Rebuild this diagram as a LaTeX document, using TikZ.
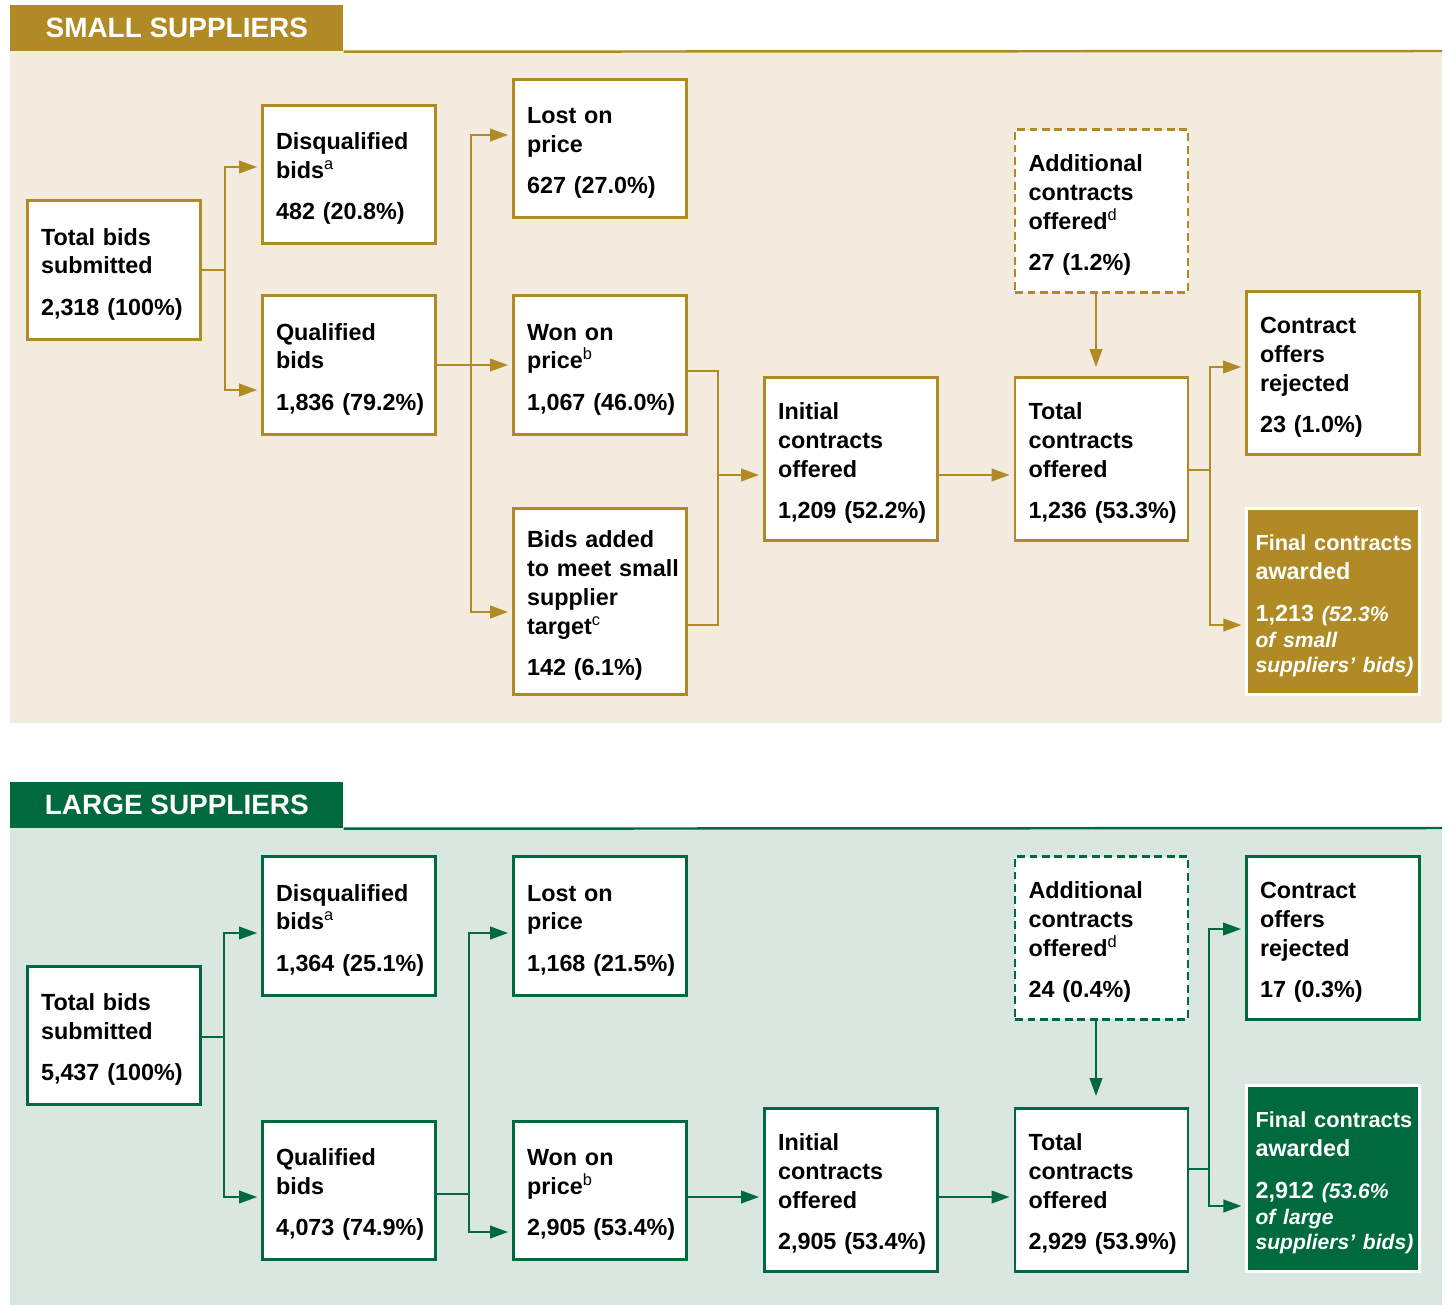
\documentclass[tikz,border=0pt]{standalone}
\usepackage{fontspec}
\setmainfont{Liberation Sans}
\usetikzlibrary{arrows.meta, positioning}

\definecolor{gold}{RGB}{176,138,36}
\definecolor{sandbg}{RGB}{243,236,222}
\definecolor{forest}{RGB}{0,106,62}
\definecolor{mintbg}{RGB}{217,231,224}

\newcommand{\awardnote}[1]{{\fontsize{12}{14}\selectfont\itshape #1}}

\begin{document}
\begin{tikzpicture}[x=0.02cm, y=-0.02cm,
      box/.style={draw=#1, fill=white, line width=1.6pt, minimum width=3.46cm, text width=2.92cm, inner sep=0pt, align=left, font=\fontsize{13.3}{16.5}\selectfont\bfseries, execute at begin node={\hyphenpenalty=10000\rule{0pt}{14.3pt}}},
      dbox/.style={box=#1, dash pattern=on 4.5pt off 2.6pt},
      fbox/.style={box=white, fill=#1, text=white, line width=1.2pt, text width=3.1cm},
      tab/.style={fill=#1, text=white, anchor=north west, inner sep=0pt, minimum width=6.66cm, minimum height=0.92cm, font=\fontsize{15.9}{18}\selectfont\bfseries},
      conn/.style={draw=#1, line width=1.3pt},
      arr/.style={conn=#1, -{Triangle[length=0.36cm, width=0.25cm]}, shorten >=0.08cm},
    ]
    \useasboundingbox (0,0) rectangle (1451,1305);

    % small suppliers
    \fill[sandbg] (10,51) rectangle (1442,723);
    \node[tab=gold] (head_s) at (10,5) {SMALL SUPPLIERS};
    \draw[gold, line width=1.4pt] (head_s.south east) -- (1442,51);

    \node[box=gold, minimum height=2.78cm] (tot_s) at (114,270) {Total~bids\\submitted\\[7pt]2,318~(100\%)};
    \node[box=gold, minimum height=2.76cm] (disq_s) at (349,174.5) {Disqualified\\bids\textsuperscript{\mdseries a}\\[7pt]482~(20.8\%)};
    \node[box=gold, minimum height=2.78cm] (qual_s) at (349,365) {Qualified\\bids\\[7pt]1,836~(79.2\%)};
    \node[box=gold, minimum height=2.76cm] (lost_s) at (600,148.5) {Lost~on\\price\\[7pt]627~(27.0\%)};
    \node[box=gold, minimum height=2.78cm] (won_s) at (600,365) {Won~on\\price\textsuperscript{\mdseries b}\\[7pt]1,067~(46.0\%)};
    \node[box=gold, minimum height=3.72cm] (added_s) at (600,601.5) {Bids~added\\to~meet~small\\supplier\\target\textsuperscript{\mdseries c}\\[7pt]142~(6.1\%)};
    \node[box=gold, minimum height=3.26cm] (init_s) at (851,459) {Initial\\contracts\\offered\\[7pt]1,209~(52.2\%)};
    \node[box=gold, minimum height=3.26cm] (total_s) at (1101.5,459) {Total\\contracts\\offered\\[7pt]1,236~(53.3\%)};
    \node[dbox=gold, minimum height=3.26cm] (addl_s) at (1101.5,211) {Additional\\contracts\\offered\textsuperscript{\mdseries d}\\[7pt]27~(1.2\%)};
    \node[box=gold, minimum height=3.26cm] (rej_s) at (1333,373) {Contract\\offers\\rejected\\[7pt]23~(1.0\%)};
    \node[fbox=gold, minimum height=3.72cm] (final_s) at (1333,601.5) {{\fontsize{12.4}{16.5}\selectfont Final~contracts}\\awarded\\[7pt]1,213~\awardnote{(52.3\%}\\[-1.8pt]\awardnote{of~small}\\[-1.8pt]\awardnote{suppliers’~bids)}};

    \coordinate (fork_tot_s) at (225,270);
    \draw[conn=gold] (tot_s.east) -- (fork_tot_s);
    \draw[arr=gold] (fork_tot_s) |- (disq_s.west |- 0,167);
    \draw[arr=gold] (fork_tot_s) |- (qual_s.west |- 0,390);

    \coordinate (fork_qual_s) at (471,365);
    \draw[arr=gold] (qual_s.east) -- (won_s.west);
    \draw[arr=gold] (fork_qual_s) |- (lost_s.west |- 0,135);
    \draw[arr=gold] (fork_qual_s) |- (added_s.west |- 0,612);

    \coordinate (merge_s) at (718,475);
    \draw[conn=gold] (won_s.east |- 0,371) -| (merge_s) |- (added_s.east |- 0,625);
    \draw[arr=gold] (merge_s) -- (init_s.west |- merge_s);
    \draw[arr=gold] (init_s.east |- 0,475) -- (total_s.west |- 0,475);
    \draw[arr=gold, shorten >=0.18cm] (addl_s.south -| 1096,0) -- (total_s.north -| 1096,0);

    \coordinate (fork_total_s) at (1210,470);
    \draw[conn=gold] (total_s.east |- fork_total_s) -- (fork_total_s);
    \draw[arr=gold] (fork_total_s) |- (rej_s.west |- 0,367);
    \draw[arr=gold] (fork_total_s) |- (final_s.west |- 0,625);

    % large suppliers
    \fill[mintbg] (10,828) rectangle (1442,1305);
    \node[tab=forest] (head_l) at (10,782) {LARGE SUPPLIERS};
    \draw[forest, line width=1.4pt] (head_l.south east) -- (1442,828);

    \node[box=forest, minimum height=2.76cm] (tot_l) at (114,1035.5) {Total~bids\\submitted\\[7pt]5,437~(100\%)};
    \node[box=forest, minimum height=2.78cm] (disq_l) at (349,926) {Disqualified\\bids\textsuperscript{\mdseries a}\\[7pt]1,364~(25.1\%)};
    \node[box=forest, minimum height=2.76cm] (qual_l) at (349,1190.5) {Qualified\\bids\\[7pt]4,073~(74.9\%)};
    \node[box=forest, minimum height=2.78cm] (lost_l) at (600,926) {Lost~on\\price\\[7pt]1,168~(21.5\%)};
    \node[box=forest, minimum height=2.76cm] (won_l) at (600,1190.5) {Won~on\\price\textsuperscript{\mdseries b}\\[7pt]2,905~(53.4\%)};
    \node[box=forest, minimum height=3.26cm] (init_l) at (851,1190) {Initial\\contracts\\offered\\[7pt]2,905~(53.4\%)};
    \node[box=forest, minimum height=3.26cm] (total_l) at (1101.5,1190) {Total\\contracts\\offered\\[7pt]2,929~(53.9\%)};
    \node[dbox=forest, minimum height=3.26cm] (addl_l) at (1101.5,938) {Additional\\contracts\\offered\textsuperscript{\mdseries d}\\[7pt]24~(0.4\%)};
    \node[box=forest, minimum height=3.26cm] (rej_l) at (1333,938) {Contract\\offers\\rejected\\[7pt]17~(0.3\%)};
    \node[fbox=forest, minimum height=3.72cm] (final_l) at (1333,1178.5) {{\fontsize{12.4}{16.5}\selectfont Final~contracts}\\awarded\\[7pt]2,912~\awardnote{(53.6\%}\\[-1.8pt]\awardnote{of~large}\\[-1.8pt]\awardnote{suppliers’~bids)}};

    \coordinate (fork_tot_l) at (224,1037);
    \draw[conn=forest] (tot_l.east |- fork_tot_l) -- (fork_tot_l);
    \draw[arr=forest] (fork_tot_l) |- (disq_l.west |- 0,933);
    \draw[arr=forest] (fork_tot_l) |- (qual_l.west |- 0,1197);

    \coordinate (fork_qual_l) at (469,1194);
    \draw[conn=forest] (qual_l.east |- fork_qual_l) -- (fork_qual_l);
    \draw[arr=forest] (fork_qual_l) |- (lost_l.west |- 0,933);
    \draw[arr=forest] (fork_qual_l) |- (won_l.west |- 0,1232);

    \draw[arr=forest] (won_l.east |- 0,1197) -- (init_l.west |- 0,1197);
    \draw[arr=forest] (init_l.east |- 0,1197) -- (total_l.west |- 0,1197);
    \draw[arr=forest, shorten >=0.22cm] (addl_l.south -| 1096,0) -- (total_l.north -| 1096,0);

    \coordinate (fork_total_l) at (1209,1169);
    \draw[conn=forest] (total_l.east |- fork_total_l) -- (fork_total_l);
    \draw[arr=forest] (fork_total_l) |- (rej_l.west |- 0,929);
    \draw[arr=forest] (fork_total_l) |- (final_l.west |- 0,1206);
  \end{tikzpicture}
\end{document}
